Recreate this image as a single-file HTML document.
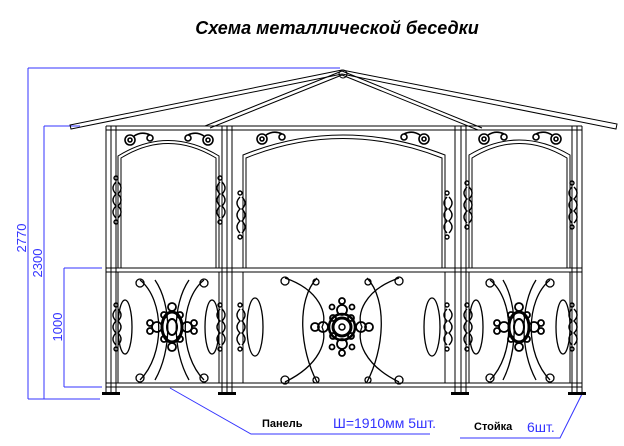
<!DOCTYPE html>
<html><head><meta charset="utf-8"><style>
html,body{margin:0;padding:0;background:#fff;}
svg{display:block;}
</style></head><body>
<svg width="624" height="446" viewBox="0 0 624 446" xmlns="http://www.w3.org/2000/svg">
<defs>
<g id="ros">
 <circle r="13" fill="none" stroke="#000" stroke-width="2.5"/>
 <circle r="9" fill="none" stroke="#000" stroke-width="3"/>
 <circle r="3" fill="none" stroke="#000" stroke-width="1.5"/>
 <g fill="none" stroke="#000" stroke-width="1.8">
  <circle cx="0" cy="-17" r="5"/><circle cx="0" cy="17" r="5"/>
  <circle cx="-19" cy="0" r="5"/><circle cx="19" cy="0" r="5"/>
  <circle cx="-27" cy="0" r="4"/><circle cx="27" cy="0" r="4"/>
  <circle cx="-9" cy="-9" r="3"/><circle cx="9" cy="-9" r="3"/><circle cx="-9" cy="9" r="3"/><circle cx="9" cy="9" r="3"/>
  <circle cx="-10" cy="-20" r="2.5"/><circle cx="10" cy="-20" r="2.5"/><circle cx="-10" cy="20" r="2.5"/><circle cx="10" cy="20" r="2.5"/>
  <circle cx="0" cy="-26" r="3"/><circle cx="0" cy="26" r="3"/>
 </g>
</g>
<g id="rosS">
 <ellipse rx="10" ry="15" fill="none" stroke="#000" stroke-width="3"/>
 <ellipse rx="5" ry="8" fill="none" stroke="#000" stroke-width="2"/>
 <g fill="none" stroke="#000" stroke-width="1.8">
  <circle cx="0" cy="-20" r="4"/><circle cx="0" cy="20" r="4"/>
  <circle cx="-15" cy="0" r="5"/><circle cx="15" cy="0" r="5"/>
  <circle cx="-22" cy="-4" r="3"/><circle cx="22" cy="-4" r="3"/><circle cx="-22" cy="4" r="3"/><circle cx="22" cy="4" r="3"/>
  <circle cx="-8" cy="-12" r="3"/><circle cx="8" cy="-12" r="3"/><circle cx="-8" cy="12" r="3"/><circle cx="8" cy="12" r="3"/>
 </g>
</g>
<g id="sideOrn" fill="none" stroke="#000" stroke-width="1.4">
 <path d="M0,-18 c-4,4 -4,8 0,12 c-4,4 -4,8 0,12 c-4,4 -4,8 0,12"/>
 <path d="M2,-18 c4,4 4,8 0,12 c4,4 4,8 0,12 c4,4 4,8 0,12"/>
 <circle cx="0" cy="-22" r="2"/><circle cx="0" cy="22" r="2"/>
</g>
<g id="scroll" fill="none" stroke="#000" stroke-width="1.6">
 <circle cx="0" cy="0" r="5"/><circle cx="0" cy="0" r="2"/>
 <path d="M4,-4 q8,-5 16,-1"/><circle cx="20" cy="-2" r="3"/>
</g>
</defs>

<text x="337" y="34" text-anchor="middle" font-family="Liberation Sans, sans-serif" font-size="18" font-weight="bold" font-style="italic">Схема металлической беседки</text>

<g stroke="#3333ff" stroke-width="1" fill="none">
 <path d="M28,68 H340 M28,68 V399 M28,399 H100"/>
 <path d="M44,126 H80 M44,126 V399"/>
 <path d="M64,268 H102 M64,268 V387 M64,387 H102"/>
 <path d="M170,388 L251,434 H430"/>
 <path d="M583,392 L560,438 H460"/>
</g>
<g font-family="Liberation Sans, sans-serif" font-size="13" fill="#3333ff">
 <text transform="translate(26,238) rotate(-90)" text-anchor="middle">2770</text>
 <text transform="translate(42,263) rotate(-90)" text-anchor="middle">2300</text>
 <text transform="translate(62,327) rotate(-90)" text-anchor="middle">1000</text>
 <text x="333" y="428" font-size="14">Ш=1910мм  5шт.</text>
 <text x="527" y="432" font-size="14">6шт.</text>
</g>
<g font-family="Liberation Sans, sans-serif" font-size="11" font-weight="bold" fill="#000">
 <text x="262" y="427">Панель</text>
 <text x="474" y="430">Стойка</text>
</g>

<g stroke="#000" stroke-width="1" fill="none">
 <path d="M342,70 L70,125 L71,129 L342,74"/>
 <path d="M342,70 L617,124 L616,129 L342,74"/>
 <path d="M342,71 L205,126 M342,75 L210,128"/>
 <path d="M342,71 L482,128 M342,75 L478,130"/>
 <circle cx="343" cy="74" r="4"/>
 <path d="M106,126 H582 M106,130 H582"/>
 <path d="M106,126 V393 M111,126 V393 M116,126 V393"/>
 <path d="M222,126 V393 M227,126 V393 M232,126 V393"/>
 <path d="M455,126 V393 M461,126 V393 M466,126 V393"/>
 <path d="M572,126 V393 M577,126 V393 M582,126 V393"/>
 <path d="M106,268 H582 M106,272 H582"/>
 <path d="M106,383 H582 M106,387 H582"/>
 <path d="M118,268 V156 Q168,125 219,156 V268"/>
 <path d="M121,268 V158 Q168,129 216,158 V268"/>
 <path d="M243,268 V155 Q342,115 445,155 V268"/>
 <path d="M246,268 V158 Q342,119 442,158 V268"/>
 <path d="M469,268 V155 Q519,125 570,155 V268"/>
 <path d="M472,268 V158 Q519,129 567,158 V268"/>
 <path d="M118,272 V383 M219,272 V383 M243,272 V383 M445,272 V383 M469,272 V383 M570,272 V383"/>
</g>
<g fill="#000">
 <rect x="102" y="392" width="18" height="3"/>
 <rect x="218" y="392" width="18" height="3"/>
 <rect x="451" y="392" width="18" height="3"/>
 <rect x="568" y="392" width="18" height="3"/>
</g>

<use href="#scroll" x="130" y="140"/>
<use href="#scroll" transform="translate(208,140) scale(-1,1)"/>
<use href="#scroll" x="262" y="139"/>
<use href="#scroll" transform="translate(424,139) scale(-1,1)"/>
<use href="#scroll" x="484" y="139"/>
<use href="#scroll" transform="translate(556,139) scale(-1,1)"/>
<use href="#sideOrn" x="116" y="200"/>
<use href="#sideOrn" x="220" y="200"/>
<use href="#sideOrn" x="240" y="215"/>
<use href="#sideOrn" x="447" y="215"/>
<use href="#sideOrn" x="467" y="205"/>
<use href="#sideOrn" x="572" y="205"/>
<use href="#sideOrn" x="116" y="327"/>
<use href="#sideOrn" x="220" y="327"/>
<use href="#sideOrn" x="240" y="327"/>
<use href="#sideOrn" x="447" y="327"/>
<use href="#sideOrn" x="467" y="327"/>
<use href="#sideOrn" x="572" y="327"/>

<g fill="none" stroke="#000" stroke-width="1.3">
 <path d="M285,278 C320,290 328,315 322,327 C328,340 320,365 285,382"/>
 <path d="M399,278 C364,290 356,315 362,327 C356,340 364,365 399,382"/>
 <path d="M317,278 C296,300 300,350 317,382"/>
 <path d="M367,278 C388,300 384,350 367,382"/>
 <circle cx="285" cy="281" r="4"/><circle cx="399" cy="281" r="4"/><circle cx="285" cy="380" r="4"/><circle cx="399" cy="380" r="4"/>
 <circle cx="316" cy="282" r="3"/><circle cx="368" cy="282" r="3"/><circle cx="316" cy="380" r="3"/><circle cx="368" cy="380" r="3"/>
 <ellipse cx="255" cy="327" rx="8" ry="29"/><ellipse cx="432" cy="327" rx="8" ry="29"/>
 <path d="M140,280 C165,300 165,355 140,380"/>
 <path d="M204,280 C179,300 179,355 204,380"/>
 <path d="M155,280 C172,305 172,350 155,380"/>
 <path d="M189,280 C172,305 172,350 189,380"/>
 <circle cx="140" cy="283" r="4"/><circle cx="204" cy="283" r="4"/><circle cx="140" cy="378" r="4"/><circle cx="204" cy="378" r="4"/>
 <ellipse cx="125" cy="327" rx="7" ry="27"/><ellipse cx="212" cy="327" rx="7" ry="27"/>
 <path d="M490,280 C515,300 515,355 490,380"/>
 <path d="M550,280 C525,300 525,355 550,380"/>
 <path d="M503,280 C518,305 518,350 503,380"/>
 <path d="M536,280 C520,305 520,350 536,380"/>
 <circle cx="490" cy="283" r="4"/><circle cx="550" cy="283" r="4"/><circle cx="490" cy="378" r="4"/><circle cx="550" cy="378" r="4"/>
 <ellipse cx="476" cy="327" rx="7" ry="27"/><ellipse cx="563" cy="327" rx="7" ry="27"/>
</g>
<use href="#ros" x="342" y="327"/>
<use href="#rosS" x="172" y="327"/>
<use href="#rosS" x="519" y="327"/>
</svg>
</body></html>
